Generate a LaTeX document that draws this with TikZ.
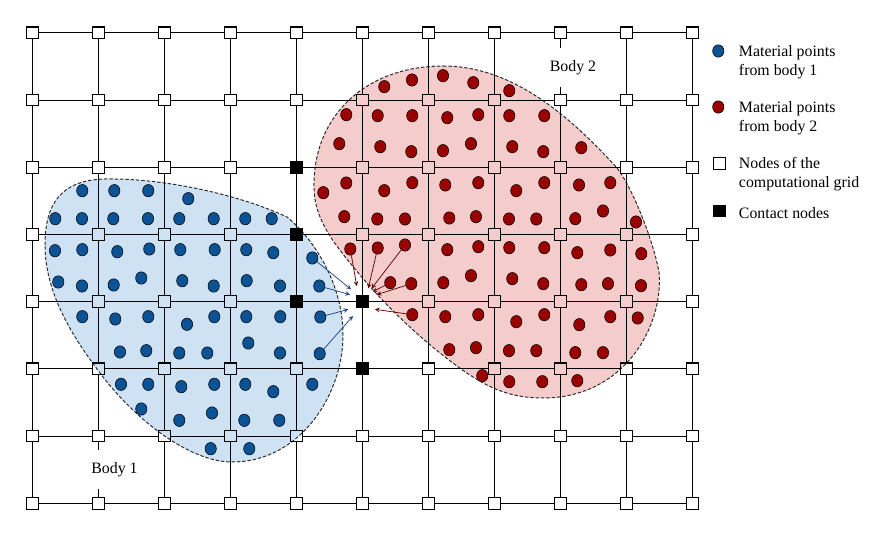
\documentclass[tikz,border=0pt]{standalone}
\usepackage{fontspec}
\setmainfont{Liberation Serif}
\usetikzlibrary{shapes.geometric}
\definecolor{blueBody}{HTML}{CFE2F3}
\definecolor{redBody}{HTML}{F4CCCC}
\definecolor{bluePoint}{HTML}{0B5394}
\definecolor{redPoint}{HTML}{990000}
\definecolor{blueArrow}{HTML}{1C4587}
\definecolor{redArrow}{HTML}{660000}
\tikzset{
    gridnode/.style={draw=black, fill=white, line width=0.8pt, minimum size=8.8pt, inner sep=0pt},
    contactnode/.style={draw=black, fill=black, line width=0.8pt, minimum size=8.8pt, inner sep=0pt},
    bluepoint/.style={ellipse, draw=black, fill=bluePoint, line width=0.4pt, minimum width=8.5pt, minimum height=9.3pt, inner sep=0pt},
    redpoint/.style={ellipse, draw=black, fill=redPoint, line width=0.4pt, minimum width=8.5pt, minimum height=9.3pt, inner sep=0pt},
    label/.style={font=\fontsize{11.9}{14.5}\selectfont, align=left, inner sep=0pt},
    bodyline/.style={draw=black!80, dash pattern=on 2.6pt off 1.4pt, line width=0.75pt, blend mode=multiply},
    blueflow/.style={-stealth, draw=blueArrow, line width=0.55pt},
    redflow/.style={-stealth, draw=redArrow, line width=0.55pt}
}
\begin{document}
\begin{tikzpicture}[x=0.75pt, y=-0.75pt]
    \useasboundingbox (0, 0) rectangle (869, 534);
    % grid
    \foreach \i in {0,...,10} {
        \foreach \j in {0,...,7} {
            \node[gridnode] (g\i-\j) at ({32.3+66*\i}, {32.9+67.2*\j}) {};
        }
    }
    \foreach \i [remember=\i as \k (initially 0)] in {1,...,10} {
        \foreach \j in {0,...,7} {
            \draw[line width=0.8pt] (g\k-\j) -- (g\i-\j);
        }
    }
    \foreach \j [remember=\j as \k (initially 0)] in {1,...,7} {
        \foreach \i in {0,...,10} {
            \draw[line width=0.8pt] (g\i-\k) -- (g\i-\j);
        }
    }
    % labels mask the grid
    \node[label, fill=white, inner xsep=2pt, minimum height=29.25pt] (bodyone) at (114.5, 470) {Body 1};
    \node[label, fill=white, inner xsep=2pt, minimum height=29.25pt] (bodytwo) at (573, 67.7) {Body 2};
    % contact nodes
    \foreach \i/\j in {4/2, 4/3, 4/4, 5/4, 5/5} {
        \node[contactnode] at (g\i-\j) {};
    }
    % bodies
    \draw[bodyline, fill=blueBody] (45,245) .. controls (45,205) and (60,180) .. (105,179)
        .. controls (165,178) and (240,195) .. (287,217)
        .. controls (315,240) and (343,285) .. (343,335)
        .. controls (343,395) and (300,462) .. (232,462)
        .. controls (190,462) and (135,420) .. (100,373)
        .. controls (75,340) and (45,295) .. (45,245) -- cycle;
    \draw[bodyline, fill=redBody] (443,66) .. controls (505,66) and (560,105) .. (617,168)
        .. controls (630,184) and (652,235) .. (659,272)
        .. controls (664,325) and (625,398) .. (543,398)
        .. controls (505,398) and (480,385) .. (440,353)
        .. controls (415,333) and (385,305) .. (360,275)
        .. controls (335,245) and (314,220) .. (314,187)
        .. controls (313,114) and (368,66) .. (443,66) -- cycle;
    % material points of body 1
    \foreach \x/\y [count=\n] in {
        82.3/190.7, 114.3/190.7, 148.3/190.7, 188.3/198.7,
        55.3/218.7, 82/218.7, 113.3/218.7, 148/218.7, 179.3/218.7, 213.7/218.7, 245.3/218.7, 271.7/218.7,
        55/250.7, 82.3/249.7, 117.3/251.7, 149.3/249, 180.3/249.7, 214.7/249.7, 246.3/249.7, 273.3/252.7,
        58.3/282, 82/286, 113.7/285, 141.3/278, 182.3/280.7, 213.7/286, 246.7/280.7, 280/286,
        82.3/316.7, 115.3/319, 148.3/316.7, 187/324.3, 214.3/316.7, 246.3/316.7, 280.3/316.7,
        120/352, 146.3/350.7, 179.3/353, 207.3/353, 248.3/343, 280/353,
        121/384.3, 148.3/384.3, 181.3/386.7, 214.3/384.3, 245.3/384.3, 273.3/391.7, 312.3/384.3,
        141.3/409, 179.3/420.3, 212/413, 244.3/420.3, 279.3/420.3,
        210.7/448.7, 249.3/448.7,
        312.3/258, 319.3/286, 320.3/317, 319.7/353.7} {
        \node[bluepoint] (bp\n) at (\x, \y) {};
    }
    % material points of body 2
    \foreach \x/\y [count=\n] in {
        384.3/86.7, 412/80, 443/75.7, 473.3/82.7, 509.3/90.7,
        346.3/114.7, 377.7/115.7, 412.3/115.7, 447.3/117.7, 478.3/114.7, 509.3/115.7, 544.3/115.7,
        339.3/143.7, 380.3/146.7, 411.3/151.7, 443/150.7, 471/143.7, 512.3/146.7, 543.3/151.7, 581.3/147.7,
        323.3/192.7, 346.3/183, 384.3/190.7, 412.3/182.7, 445.3/185, 478.3/182.7, 516.3/190.7, 544.3/182.7, 579/185, 610.3/182.7,
        344.3/216.7, 377.3/219, 405/219, 449.3/218, 476/216.7, 509/219, 536.3/219, 575.3/218.7, 603/211, 636/222,
        447.3/249.7, 478.3/246.7, 509.3/247.7, 544.3/247.7, 577.3/252.7, 610.3/250, 641.3/253.7,
        443.3/282.7, 471/275.7, 512.3/278.7, 543.3/283.7, 581.3/284.7, 608/283.7, 641/285.7,
        445.3/316.7, 478.3/314.7, 516.3/321.7, 544.3/314.7, 579.3/324.7, 610.3/316.7, 637.7/318,
        449.3/349.7, 476/347.7, 509/350.7, 536.3/350.7, 575.3/352.7, 603/352.7,
        482.3/375.7, 509.3/381.7, 542.3/381.7, 577.3/380.7,
        350.3/249, 377.7/248, 405/245, 390.3/282.7, 411.3/283.7, 412.3/314.7} {
        \node[redpoint] (rp\n) at (\x, \y) {};
    }
    % flow to the contact node
    \coordinate (ba) at (351, 289.3);
    \coordinate (bb) at (350, 294.7);
    \coordinate (bc) at (348.3, 309.3);
    \coordinate (bd) at (353, 316);
    \draw[blueflow] (bp56) -- (ba);
    \draw[blueflow] (bp57) -- (bb);
    \draw[blueflow] (bp58) -- (bc);
    \draw[blueflow] (bp59) -- (bd);
    \coordinate (ra) at (356.7, 286);
    \coordinate (rb) at (368.3, 288.3);
    \coordinate (rc) at (371.7, 288.3);
    \coordinate (rd) at (372.7, 291.7);
    \coordinate (re) at (376.7, 294.7);
    \coordinate (rf) at (375, 309.3);
    \draw[redflow] (rp72) -- (ra);
    \draw[redflow] (rp73) -- (rb);
    \draw[redflow] (rp74) -- (rc);
    \draw[redflow] (rp75) -- (rd);
    \draw[redflow] (rp76) -- (re);
    \draw[redflow] (rp77) -- (rf);
    % legend
    \node[bluepoint] (keya) at (718.3, 51) {};
    \node[redpoint] (keyb) at (718.3, 107) {};
    \node[gridnode] (keyc) at (719.5, 163.3) {};
    \node[contactnode] (keyd) at (719.5, 211) {};
    \node[label, anchor=west] (texta) at (738.7, 62.2) {Material points\\from body 1};
    \node[label, anchor=west] (textb) at (738.7, 118.2) {Material points\\from body 2};
    \node[label, anchor=west] (textc) at (738.7, 174.2) {Nodes of the\\computational grid};
    \node[label, anchor=west] (textd) at (738.7, 212.7) {Contact nodes};
\end{tikzpicture}
\end{document}
